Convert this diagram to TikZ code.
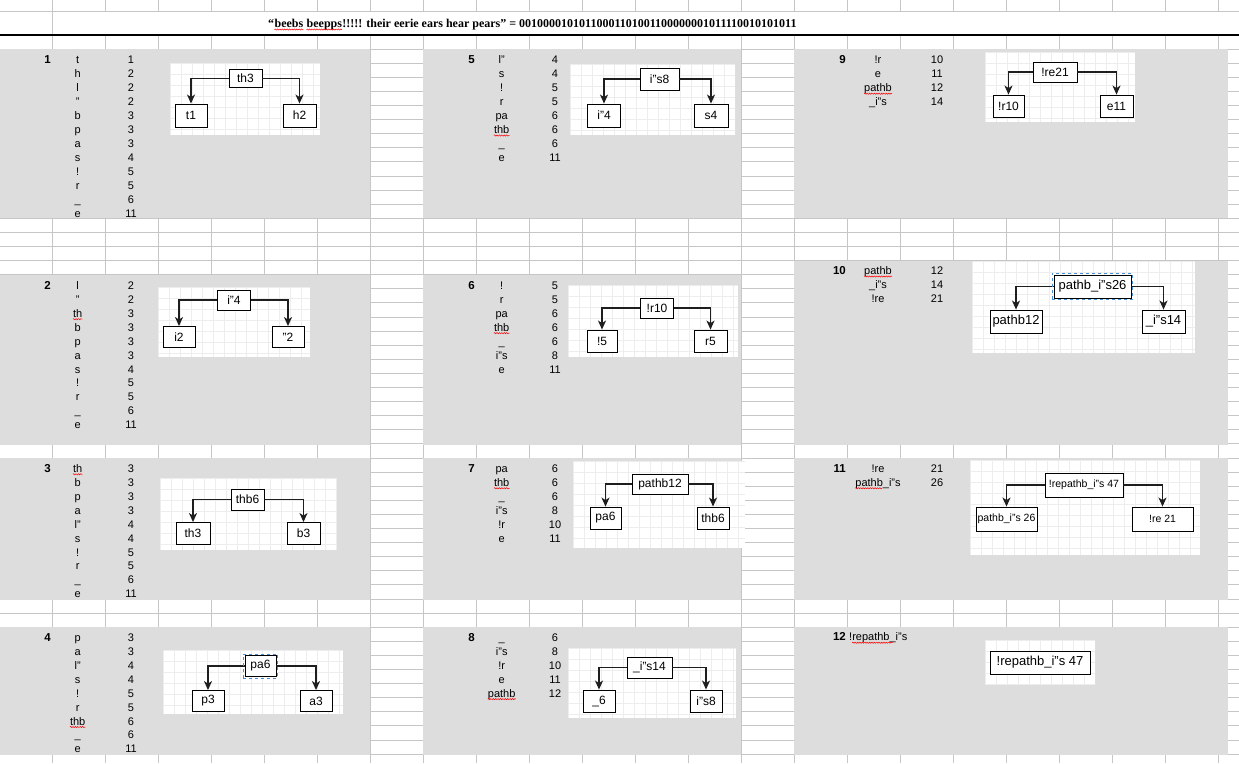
\documentclass[tikz,border=0pt]{standalone}
\usepackage{fontspec}
\setmainfont{Liberation Sans}
\newfontfamily\titlefont{Liberation Serif}
\usetikzlibrary{arrows.meta,decorations.pathmorphing,fit}

\definecolor{sheetline}{HTML}{C6C6C6}
\definecolor{panelgray}{HTML}{DDDDDD}
\definecolor{tgridc}{HTML}{EDEDED}
\definecolor{selblue}{HTML}{4A90D9}
\definecolor{linkc}{HTML}{1E1E1E}

\tikzset{
  sheet/.style={draw=sheetline, line width=0.8pt},
  panel/.style={fill=panelgray},
  item/.style={inner sep=0pt, anchor=base, font=\fontsize{11}{13}\selectfont},
  pnum/.style={inner sep=0pt, anchor=base east, font=\fontsize{11.5}{13}\selectfont\bfseries},
  hbox/.style={draw=black, line width=0.9pt, fill=white, inner sep=0pt},
  link/.style={draw=linkc, line width=1.3pt, -{Stealth[length=9pt,width=8pt,inset=2.5pt]}},
  tgrid/.style={draw=tgridc, line width=0.5pt},
  squig/.style={draw=red, line width=0.5pt, decorate,
    decoration={snake, amplitude=0.6pt, segment length=2.4pt}},
  sel/.style={draw=selblue, dashed, line width=0.6pt, inner sep=1.2pt},
  ttl/.style={inner sep=0pt, anchor=base west, font=\titlefont\bfseries\fontsize{12}{14}\selectfont}
}

% white drawing area with a faint grid
\newcommand\treebg[4]{%
  \fill[white] (#1,#2) rectangle (#3,#4);
  \begin{scope}
    \clip (#1,#2) rectangle (#3,#4);
    \foreach \g in {0,11,...,253} {
      \draw[tgrid] ({#1+\g},#2) -- ({#1+\g},#4);
      \draw[tgrid] (#1,{#2+\g}) -- (#3,{#2+\g});
    }
  \end{scope}}

% box: name, x, y, width, height, font size, text
\newcommand\hbx[7]{\node[hbox, minimum width=#4pt, minimum height=#5pt,
  font=\fontsize{#6}{#6}\selectfont] (#1) at (#2,#3) {#7};}

% root to both children
\newcommand\hlinks[3]{%
  \draw[link] (#1.west) -| (#2.north);
  \draw[link] (#1.east) -| (#3.north);}

% table block: prefix, label x, symbol x, count x, first baseline, label, entries
\newcommand\plist[7]{%
  \node[pnum] (#1) at (#2,#5) {#6};
  \foreach \itmA/\itmB [count=\i] in {#7} {
    \node[item] (#1a\i) at (#3,{#5+(\i-1)*13.95}) {\itmA};
    \node[item] (#1b\i) at (#4,{#5+(\i-1)*13.95}) {\itmB};
  }}

\newcommand\wavy[1]{\draw[squig] ([yshift=-2pt]#1.base west) -- ([yshift=-2pt]#1.base east);}

\begin{document}
\begin{tikzpicture}[x=1pt,y=-1pt]
\useasboundingbox (0,0) rectangle (1239,763);
\fill[white] (0,0) rectangle (1239,763);

% spreadsheet grid
\foreach \x in {52,105,...,1218} {
  \draw[sheet] (\x,0) -- (\x,11);
  \draw[sheet] (\x,35) -- (\x,763);
}
\draw[sheet] (52,11) -- (52,35);
\draw[sheet] (0,11) -- (1239,11);
\foreach \k in {0,...,50} \draw[sheet] (0,{49+14.1*\k}) -- (1239,{49+14.1*\k});
\draw[black, line width=1.6pt] (0,35) -- (1239,35);

% title
\node[ttl] (ttq) at (268,27.5) {“};
\node[ttl] (ttw1) at (ttq.base east) {beebs};
\node[ttl] (ttw2) at ([xshift=3pt]ttw1.base east) {beepps};
\node[ttl] (ttrest) at (ttw2.base east) {!!!!! their eerie ears hear pears” = 00100001010110001101001100000001011110010101011};
\wavy{ttw1}
\wavy{ttw2}

% grey blocks
\fill[panel] (0,49) rectangle (370,218);
\fill[panel] (423,49) rectangle (741,218);
\fill[panel] (794,49) rectangle (1228,218);
\fill[panel] (0,275) rectangle (370,445);
\fill[panel] (423,275) rectangle (741,445);
\fill[panel] (794,261) rectangle (1228,445);
\fill[panel] (0,458) rectangle (370,600);
\fill[panel] (423,458) rectangle (741,600);
\fill[panel] (794,458) rectangle (1228,600);
\fill[panel] (0,627) rectangle (370,755);
\fill[panel] (423,627) rectangle (741,755);
\fill[panel] (794,627) rectangle (1228,755);

% symbol / count tables
\plist{p1}{51}{77.7}{131}{63.8}{1}{t/1,h/2,l/2,”/2,b/3,p/3,a/3,s/4,!/5,r/5,\_/6,e/11}
\plist{p2}{51}{77.7}{131}{289.3}{2}{l/2,”/2,th/3,b/3,p/3,a/3,s/4,!/5,r/5,\_/6,e/11}
\plist{p3}{51}{77.7}{131}{472.3}{3}{th/3,b/3,p/3,a/3,l”/4,s/4,!/5,r/5,\_/6,e/11}
\plist{p4}{51}{77.7}{131}{641.3}{4}{p/3,a/3,l”/4,s/4,!/5,r/5,thb/6,\_/6,e/11}
\plist{p5}{475}{501.7}{555}{63.8}{5}{l”/4,s/4,!/5,r/5,pa/6,thb/6,\_/6,e/11}
\plist{p6}{475}{501.7}{555}{289.3}{6}{!/5,r/5,pa/6,thb/6,\_/6,i”s/8,e/11}
\plist{p7}{475}{501.7}{555}{472.3}{7}{pa/6,thb/6,\_/6,i”s/8,!r/10,e/11}
\plist{p8}{475}{501.7}{555}{641.3}{8}{\_/6,i”s/8,!r/10,e/11,pathb/12}
\plist{p9}{846}{878}{937}{63.8}{9}{!r/10,e/11,pathb/12,\_i”s/14}
\plist{p10}{846}{878}{937}{274.5}{10}{pathb/12,\_i”s/14,!re/21}
\plist{p11}{846}{878}{937}{472.3}{11}{!re/21,pathb\_i”s/26}
\node[pnum] (p12) at (846,640.7) {12};
\node[item, anchor=base west] (p12a1) at (849,640.7) {!repathb\_i”s};

\wavy{p2a3} \wavy{p3a1} \wavy{p4a7} \wavy{p5a6} \wavy{p6a4} \wavy{p7a2}
\wavy{p8a5} \wavy{p9a3} \wavy{p10a1}
\draw[squig] ([yshift=-2pt]p11a2.base west) -- ([xshift=27pt,yshift=-2pt]p11a2.base west);
\draw[squig] ([xshift=3pt,yshift=-2pt]p12a1.base west) -- ([xshift=44pt,yshift=-2pt]p12a1.base west);

% tree 1
\treebg{170}{63}{320}{135}
\hbx{t1r}{245.5}{78.5}{33}{18}{12}{th3}
\hbx{t1a}{191}{115.5}{32}{23}{12}{t1}
\hbx{t1b}{299.5}{115.5}{33}{23}{12}{h2}
\hlinks{t1r}{t1a}{t1b}

% tree 2
\treebg{158}{287}{310}{357}
\hbx{t2r}{234}{300}{33}{20}{12}{i"4}
\hbx{t2a}{179}{337}{32}{21}{12}{i2}
\hbx{t2b}{288}{337}{32}{21}{12}{"2}
\hlinks{t2r}{t2a}{t2b}

% tree 3
\treebg{160}{478}{337}{550}
\hbx{t3r}{247.5}{499.5}{33}{21}{12}{thb6}
\hbx{t3a}{193}{533.5}{34}{22}{12}{th3}
\hbx{t3b}{303.5}{533.5}{33}{22}{12}{b3}
\hlinks{t3r}{t3a}{t3b}

% tree 4
\treebg{163}{650}{343}{714}
\hbx{t4r}{260.5}{666}{31}{21}{12}{pa6}
\hbx{t4a}{208}{701}{32}{21}{12}{p3}
\hbx{t4b}{316}{701}{32}{21}{12}{a3}
\hlinks{t4r}{t4a}{t4b}
\node[sel, fit=(t4r)] (t4s) {};

% tree 5
\treebg{570}{64}{735}{135}
\hbx{t5r}{659.5}{79}{39}{22}{12}{i"s8}
\hbx{t5a}{604}{115.5}{33}{23}{12}{i"4}
\hbx{t5b}{711}{115.5}{34}{23}{12}{s4}
\hlinks{t5r}{t5a}{t5b}

% tree 6
\treebg{568}{285}{738}{357}
\hbx{t6r}{657}{308}{33}{20}{12}{!r10}
\hbx{t6a}{602}{341}{30}{22}{12}{!5}
\hbx{t6b}{710.5}{341}{33}{22}{12}{r5}
\hlinks{t6r}{t6a}{t6b}

% tree 7
\treebg{573}{461}{745}{548}
\hbx{t7r}{660}{484}{56}{20}{12}{pathb12}
\hbx{t7a}{605.5}{518}{31}{22}{12}{pa6}
\hbx{t7b}{713}{518}{32}{22}{12}{thb6}
\hlinks{t7r}{t7a}{t7b}

% tree 8
\treebg{568}{648}{736}{718}
\hbx{t8r}{649.5}{667.5}{45}{21}{12}{\_i"s14}
\hbx{t8a}{599}{701}{32}{22}{12}{\_6}
\hbx{t8b}{706}{701}{32}{22}{12}{i"s8}
\hlinks{t8r}{t8a}{t8b}

% tree 9
\treebg{985}{52}{1135}{122}
\hbx{t9r}{1055}{72}{44}{20}{12}{!re21}
\hbx{t9a}{1008.5}{106}{31}{22}{12}{!r10}
\hbx{t9b}{1116.5}{106}{33}{22}{12}{e11}
\hlinks{t9r}{t9a}{t9b}

% tree 10
\treebg{972}{261}{1195}{353}
\hbx{t10r}{1092.5}{286.5}{77}{23}{13}{pathb\_i"s26}
\hbx{t10a}{1016}{321.5}{52}{23}{13}{pathb12}
\hbx{t10b}{1163.5}{321.5}{43}{23}{13}{\_i"s14}
\hlinks{t10r}{t10a}{t10b}
\node[sel, fit=(t10r)] (t10s) {};

% tree 11
\treebg{970}{460}{1200}{555}
\hbx{t11r}{1084}{485}{78}{24}{10.5}{!repathb\_i"s 47}
\hbx{t11a}{1006.5}{519}{61}{24}{10.5}{pathb\_i"s 26}
\hbx{t11b}{1162.5}{519}{61}{24}{10.5}{!re 21}
\hlinks{t11r}{t11a}{t11b}

% final tree
\treebg{985}{640}{1095}{685}
\hbx{t12r}{1040}{662.5}{100}{23}{13}{!repathb\_i"s 47}
\end{tikzpicture}
\end{document}
